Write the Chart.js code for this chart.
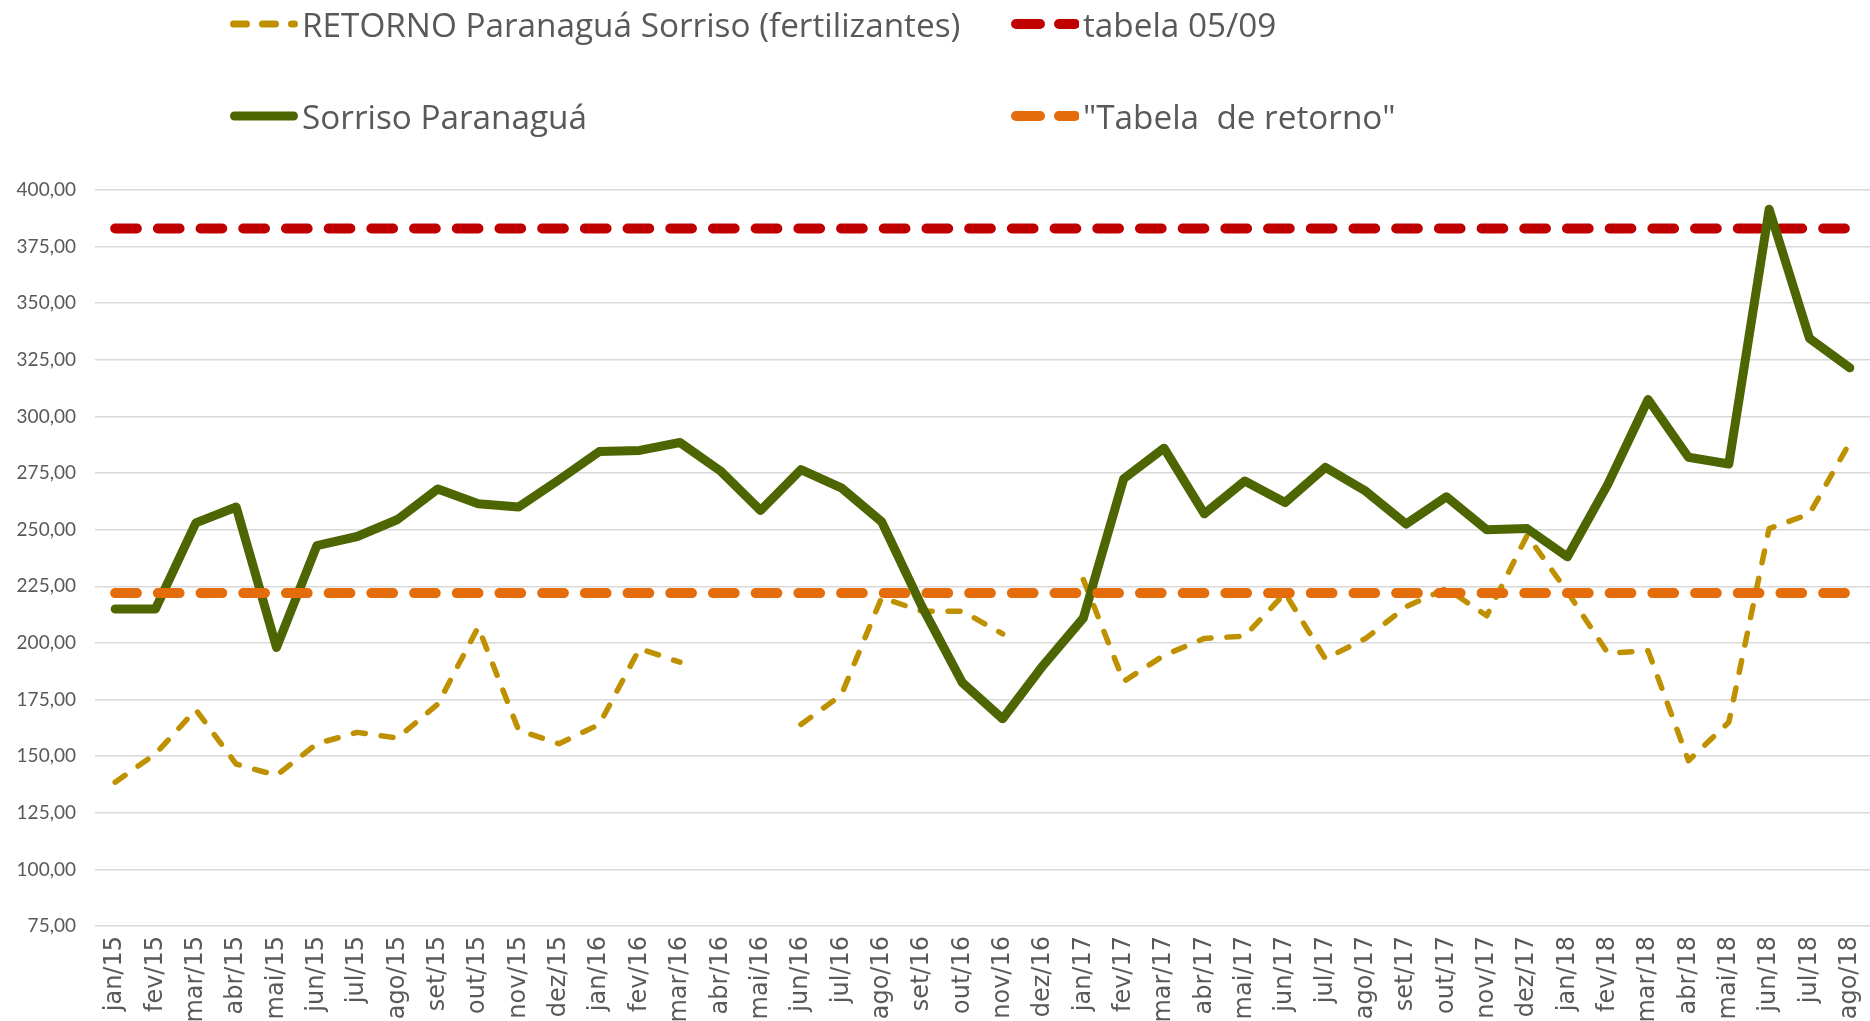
<!DOCTYPE html>
<html>
<head>
<meta charset="utf-8">
<script src="https://cdn.jsdelivr.net/npm/chart.js@4.4.0/dist/chart.umd.min.js"></script>
<style>
html, body { margin: 0; padding: 0; background: #ffffff; overflow: hidden; }
#wrap { position: relative; width: 1870px; height: 1021px; }
#chart { position: absolute; left: 0; top: 0; }
.leg { position: absolute; display: flex; align-items: center; height: 50px; line-height: 50px;
       font-family: 'Open Sans', sans-serif; font-size: 33.3px; color: #595959; white-space: pre; }
.leg svg { display: block; margin-right: 4px; }
</style>
</head>
<body>
<div id="wrap">
  <canvas id="chart" width="1870" height="1021"></canvas>
  <div id="legend"></div>
</div>
<script>
const categories = ['jan/15','fev/15','mar/15','abr/15','mai/15','jun/15','jul/15','ago/15','set/15','out/15','nov/15','dez/15',
  'jan/16','fev/16','mar/16','abr/16','mai/16','jun/16','jul/16','ago/16','set/16','out/16','nov/16','dez/16',
  'jan/17','fev/17','mar/17','abr/17','mai/17','jun/17','jul/17','ago/17','set/17','out/17','nov/17','dez/17',
  'jan/18','fev/18','mar/18','abr/18','mai/18','jun/18','jul/18','ago/18'];

const retornoValues = [138.5, 151, 170.5, 146.5, 141.5, 155.5, 160.5, 158, 173, 207, 161.5, 155.5,
  164, 197.5, 191.5, null, null, 164, 177, 220, 214, 214, 204, null,
  228, 183, 194.5, 202, 203, 222, 193, 202, 216, 224, 212, 247.5,
  222.5, 195.5, 196.5, 148, 165, 250.5, 257, 288.5];

const sorrisoValues = [215, 215, 253, 260, 198, 243, 247, 254.5, 268, 261.5, 260, 272,
  284.5, 285, 288.5, 276, 258.5, 276.5, 268.5, 253.5, 216, 182.5, 166.5, 190,
  211, 272.5, 286, 257, 271.5, 262, 277.5, 267, 252.5, 264.5, 250, 250.5,
  238, 270, 307.5, 282, 279, 391.5, 334.5, 321.5];

const tabela0509Values = [383, 383, 383, 383, 383, 383, 383, 383, 383, 383, 383, 383,
  383, 383, 383, 383, 383, 383, 383, 383, 383, 383, 383, 383,
  383, 383, 383, 383, 383, 383, 383, 383, 383, 383, 383, 383,
  383, 383, 383, 383, 383, 383, 383, 383];

const tabelaRetornoValues = [222, 222, 222, 222, 222, 222, 222, 222, 222, 222, 222, 222,
  222, 222, 222, 222, 222, 222, 222, 222, 222, 222, 222, 222,
  222, 222, 222, 222, 222, 222, 222, 222, 222, 222, 222, 222,
  222, 222, 222, 222, 222, 222, 222, 222];

const yTickValues = [75, 100, 125, 150, 175, 200, 225, 250, 275, 300, 325, 350, 375, 400];

const seriesLabels = ['RETORNO Paranaguá Sorriso (fertilizantes)', 'tabela 05/09', 'Sorriso Paranaguá', '"Tabela  de retorno"'];

const ctx = document.getElementById('chart').getContext('2d');
const chart = new Chart(ctx, {
  type: 'line',
  data: {
    labels: categories,
    datasets: [
      { label: seriesLabels[0], data: retornoValues, borderColor: '#BF9000', backgroundColor: '#BF9000',
        borderWidth: 5.5, borderDash: [12, 16], borderCapStyle: 'round', borderJoinStyle: 'round',
        pointRadius: 0, spanGaps: false, tension: 0, order: 3,
        legendSample: { width: 7, dash: '13 16', x1: 3.5, x2: 64.5 } },
      { label: seriesLabels[1], data: tabela0509Values, borderColor: '#C00000', backgroundColor: '#C00000',
        borderWidth: 10, borderDash: [21.7, 21], borderCapStyle: 'round', borderJoinStyle: 'round',
        pointRadius: 0, tension: 0, order: 2,
        legendSample: { width: 10, dash: '24 19', x1: 5, x2: 64 } },
      { label: seriesLabels[2], data: sorrisoValues, borderColor: '#4E6602', backgroundColor: '#4E6602',
        borderWidth: 9, borderCapStyle: 'round', borderJoinStyle: 'round',
        pointRadius: 0, tension: 0, order: 1,
        legendSample: { width: 9, dash: 'none', x1: 4.5, x2: 63.5 } },
      { label: seriesLabels[3], data: tabelaRetornoValues, borderColor: '#E46C0A', backgroundColor: '#E46C0A',
        borderWidth: 10, borderDash: [21.7, 21], borderCapStyle: 'round', borderJoinStyle: 'round',
        pointRadius: 0, tension: 0, order: 0,
        legendSample: { width: 10, dash: '24 19', x1: 5, x2: 64 } }
    ]
  },
  options: {
    responsive: false,
    animation: false,
    devicePixelRatio: 1,
    layout: { padding: { top: 190, left: 0, right: 0, bottom: 0 } },
    plugins: { legend: { display: false }, tooltip: { enabled: false } },
    scales: {
      x: {
        offset: true,
        grid: { display: false, drawTicks: false },
        border: { display: false },
        ticks: { autoSkip: false, minRotation: 90, maxRotation: 90, padding: 10, color: '#595959',
                 font: { family: 'DejaVu Sans', size: 24 } },
        afterFit(s) { s.height = 95; s.paddingLeft = 0; s.paddingRight = 0; }
      },
      y: {
        min: yTickValues[0], max: yTickValues[yTickValues.length - 1],
        grid: { color: '#d9d9d9', lineWidth: 1.6, drawTicks: false },
        border: { display: false },
        afterBuildTicks(s) { s.ticks = yTickValues.map(v => ({ value: v })); },
        ticks: { padding: 19, color: '#595959', font: { family: 'Lato', size: 19 },
                 callback: v => Number(v).toFixed(2).replace('.', ',') },
        afterFit(s) { s.width = 95; }
      }
    }
  }
});

// HTML legend built from the chart's datasets (2 columns x 2 rows, as in the original)
const legendPos = [ { left: 230, cy: 24 }, { left: 1011, cy: 24 }, { left: 230, cy: 116 }, { left: 1011, cy: 116 } ];
const legendEl = document.getElementById('legend');
chart.data.datasets.forEach((ds, i) => {
  const p = legendPos[i];
  const item = document.createElement('div');
  item.className = 'leg';
  item.style.left = p.left + 'px';
  item.style.top = (p.cy - 25) + 'px';
  const s = ds.legendSample;
  const svgNS = 'http://www.w3.org/2000/svg';
  const svg = document.createElementNS(svgNS, 'svg');
  svg.setAttribute('width', '68'); svg.setAttribute('height', '20');
  const ln = document.createElementNS(svgNS, 'line');
  ln.setAttribute('x1', s.x1); ln.setAttribute('x2', s.x2);
  ln.setAttribute('y1', '10'); ln.setAttribute('y2', '10');
  ln.setAttribute('stroke', ds.borderColor);
  ln.setAttribute('stroke-width', s.width);
  ln.setAttribute('stroke-linecap', 'round');
  if (s.dash !== 'none') ln.setAttribute('stroke-dasharray', s.dash);
  svg.appendChild(ln);
  item.appendChild(svg);
  const span = document.createElement('span');
  span.textContent = ds.label;
  item.appendChild(span);
  legendEl.appendChild(item);
});
</script>
</body>
</html>
